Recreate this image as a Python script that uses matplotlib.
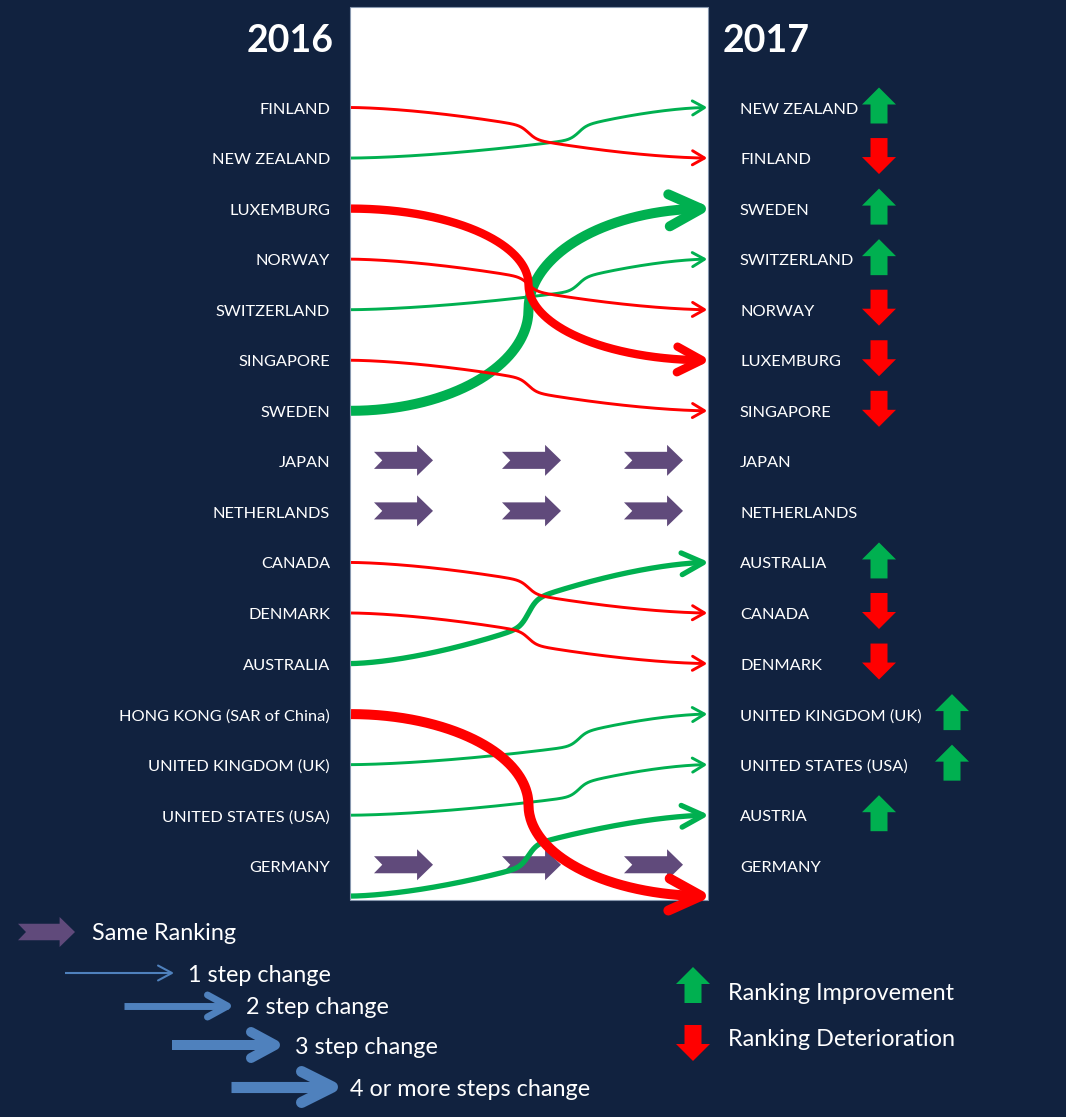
import numpy as np
import matplotlib
matplotlib.use("Agg")
import matplotlib.pyplot as plt
from matplotlib.patches import Polygon, Rectangle

# ---------------- data ----------------
years = ["2016", "2017"]
countries_2016 = ["FINLAND", "NEW ZEALAND", "LUXEMBURG", "NORWAY", "SWITZERLAND",
                  "SINGAPORE", "SWEDEN", "JAPAN", "NETHERLANDS", "CANADA", "DENMARK",
                  "AUSTRALIA", "HONG KONG (SAR of China)", "UNITED KINGDOM (UK)",
                  "UNITED STATES (USA)", "GERMANY"]
countries_2017 = ["NEW ZEALAND", "FINLAND", "SWEDEN", "SWITZERLAND", "NORWAY",
                  "LUXEMBURG", "SINGAPORE", "JAPAN", "NETHERLANDS", "AUSTRALIA",
                  "CANADA", "DENMARK", "UNITED KINGDOM (UK)", "UNITED STATES (USA)",
                  "AUSTRIA", "GERMANY"]
OUTSIDE_RANK = 17  # rank used for a country outside the top 16 in that year

legend_steps = ["1 step change", "2 step change", "3 step change", "4 or more steps change"]
legend_same = "Same Ranking"
legend_updown = ["Ranking Improvement", "Ranking Deterioration"]

# ---------------- style ----------------
W, H = 1066, 1117
BG = "#11223F"
RED = "#FF0000"
GREEN = "#00B050"
PURPLE = "#604A7B"
BLUE = "#4F81BD"
FONT = ["Lato", "DejaVu Sans"]

X0, X1 = 350, 708          # white panel
TIP_X = 706
ROW0, ROWSTEP = 107.5, 50.55
OFF_ROW = 16.6             # drawn position for ranks outside the list
LABEL_FS = 11.8
LEG_FS = 16.8


def row_y(r):
    return ROW0 + (min(r, OFF_ROW) - 1) * ROWSTEP


LW_BY_STEP = {1: 2.1, 2: 3.8, 3: 6.0, 4: 7.2}      # points
HEAD_BY_STEP = {1: (15, 17), 2: (27, 27), 3: (33, 34), 4: (42, 42)}  # px

fig = plt.figure(figsize=(W / 100, H / 100), dpi=100, facecolor=BG)
ax = fig.add_axes([0, 0, 1, 1])
ax.set_xlim(0, W)
ax.set_ylim(H, 0)
ax.axis("off")
ax.set_facecolor(BG)

ax.add_patch(Rectangle((X0, 7), X1 - X0, 893, facecolor="white",
                       edgecolor="#8797AE", lw=0.8, zorder=1))

ax.text(290, 41, years[0], color="white", fontsize=27, fontweight="bold",
        ha="center", va="center", family=FONT)
ax.text(766, 41, years[1], color="white", fontsize=27, fontweight="bold",
        ha="center", va="center", family=FONT)


def shape(t, kind, tc):
    if kind == "arc":
        return np.where(t < 0.5,
                        0.5 * (1 - np.sqrt(np.clip(1 - (2 * t) ** 2, 0, 1))),
                        0.5 + 0.5 * np.sqrt(np.clip(1 - (2 - 2 * t) ** 2, 0, 1)))
    q, a = 1.6, 0.25
    left = 0.5 * (np.clip(t, 0, tc) / tc) ** q
    right = 1 - 0.5 * (np.clip(1 - t, 0, 1 - tc) / (1 - tc)) ** q
    base = np.where(t < tc, left, right)
    jog = 1 / (1 + np.exp(-(t - tc) / 0.012))
    return (1 - a) * base + a * jog


def chevron(x, y, d, L, Wd, color, lw_pt, z):
    """x, y = visible outer tip; d = unit direction."""
    lw_px = lw_pt / 0.72
    tip = np.array([x, y]) - d * lw_px * 0.5
    Lg = max(L - lw_px, 4)
    Wg = max(Wd - lw_px, 4) / 2
    n = np.array([-d[1], d[0]])
    a1 = tip - Lg * d + Wg * n
    a2 = tip - Lg * d - Wg * n
    ax.plot([a1[0], tip[0], a2[0]], [a1[1], tip[1], a2[1]], color=color, lw=lw_pt,
            solid_joinstyle="round", solid_capstyle="round", zorder=z)
    return tip


def notched_arrow(xl, yc, w, h, color, z=3):
    hs = 0.73 * w
    sh = 0.55 * h
    notch = 0.14 * w
    pts = [(xl, yc - sh / 2), (xl + hs, yc - sh / 2), (xl + hs, yc - h / 2),
           (xl + w, yc), (xl + hs, yc + h / 2), (xl + hs, yc + sh / 2),
           (xl, yc + sh / 2), (xl + notch, yc)]
    ax.add_patch(Polygon(pts, closed=True, facecolor=color, edgecolor="none", zorder=z))


def block_arrow(cx, cy, up, color):
    hh, hw, sw, head = 18, 17, 8.5, 17
    s = -1 if up else 1
    tipy = cy + s * hh
    basey = cy - s * hh
    neck = tipy - s * head
    pts = [(cx - sw, basey), (cx - sw, neck), (cx - hw, neck), (cx, tipy),
           (cx + hw, neck), (cx + sw, neck), (cx + sw, basey)]
    ax.add_patch(Polygon(pts, closed=True, facecolor=color, edgecolor="none", zorder=3))


r16 = {c: i + 1 for i, c in enumerate(countries_2016)}
r17 = {c: i + 1 for i, c in enumerate(countries_2017)}
all_countries = countries_2016 + [c for c in countries_2017 if c not in r16]

# labels
for c in countries_2016:
    ax.text(330, row_y(r16[c]) + 2, c, color="white", fontsize=LABEL_FS, ha="right",
            va="center", family=FONT)
for c in countries_2017:
    ax.text(740, row_y(r17[c]) + 2, c, color="white", fontsize=LABEL_FS, ha="left",
            va="center", family=FONT)

t = np.linspace(0, 1, 600)
for c in all_countries:
    a = r16.get(c, OUTSIDE_RANK)
    b = r17.get(c, OUTSIDE_RANK)
    if a == b:
        yc = row_y(a)
        for xl in (374, 502, 624):
            notched_arrow(xl, yc - 1, 59, 31, PURPLE)
        continue
    steps = min(abs(a - b), 4)
    color = GREEN if b < a else RED
    lw = LW_BY_STEP[steps]
    if steps >= 3:
        kind, tc = "arc", 0.5
    elif steps == 1 and b < a:
        kind, tc = "soft", 0.64
    else:
        kind, tc = "soft", 0.5
    y0, y1 = row_y(a), row_y(b)
    xs = X0 + 1 + t * (TIP_X - X0 - 1)
    ys = y0 + (y1 - y0) * shape(t, kind, tc)
    z = 5 if color == RED else 4
    L, Wd = HEAD_BY_STEP[steps]
    k = np.searchsorted(xs, TIP_X - 0.7 * L)
    d = np.array([xs[-1] - xs[k], ys[-1] - ys[k]])
    d = d / np.hypot(*d)
    tip = chevron(xs[-1], ys[-1], d, L, Wd, color, lw, z)
    keep = xs <= tip[0]
    ax.plot(np.r_[xs[keep], tip[0]], np.r_[ys[keep], tip[1]], color=color, lw=lw,
            solid_capstyle="butt", zorder=z)

# improvement / deterioration markers
for c in countries_2017:
    a = r16.get(c, OUTSIDE_RANK)
    b = r17[c]
    if a == b:
        continue
    cx = 952 if len(c) > 14 else 879
    block_arrow(cx, row_y(b) - 2, b < a, GREEN if b < a else RED)

# ---------------- legend ----------------
notched_arrow(18, 932, 57, 30, PURPLE)
ax.text(92, 933, legend_same, color="white", fontsize=LEG_FS, ha="left", va="center",
        family=FONT)

leg_x0 = [65, 124, 172, 231]
leg_x1 = [173, 231, 280, 338]
leg_y = [973, 1006, 1045, 1087]
leg_lw = [1.5, 5.0, 7.2, 8.0]
leg_head = [(16, 17), (27, 29), (34, 36), (42, 42)]
leg_tx = [188, 246, 295, 350]
for i, lab in enumerate(legend_steps):
    d = np.array([1.0, 0.0])
    tip = chevron(leg_x1[i], leg_y[i], d, leg_head[i][0], leg_head[i][1],
                  BLUE, leg_lw[i], 4)
    ax.plot([leg_x0[i], tip[0]], [leg_y[i], leg_y[i]], color=BLUE, lw=leg_lw[i],
            solid_capstyle="butt", zorder=4)
    ax.text(leg_tx[i], leg_y[i] + 2, lab, color="white", fontsize=LEG_FS, ha="left",
            va="center", family=FONT)

block_arrow(693, 985, True, GREEN)
block_arrow(693, 1043, False, RED)
ax.text(728, 994, legend_updown[0], color="white", fontsize=LEG_FS, ha="left",
        va="center", family=FONT)
ax.text(728, 1039, legend_updown[1], color="white", fontsize=LEG_FS, ha="left",
        va="center", family=FONT)

fig.savefig("out.png", dpi=100, facecolor=BG)
